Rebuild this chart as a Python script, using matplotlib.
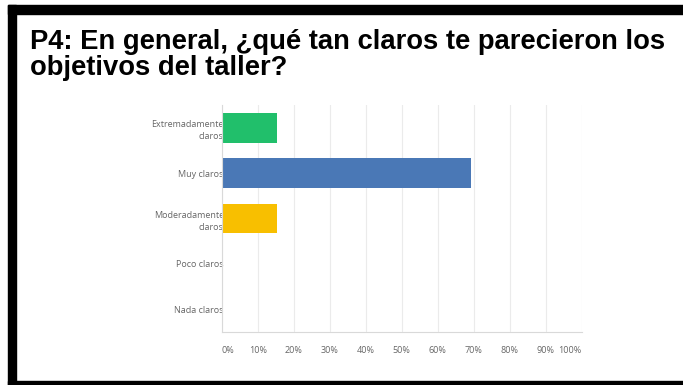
#!/usr/bin/env python3
"""
Horizontal bar chart for survey question P4 (claridad de los objetivos).
"""

import matplotlib
matplotlib.use('Agg')
import matplotlib.pyplot as plt
from matplotlib.patches import Rectangle
from matplotlib.ticker import FixedLocator


categories = ['Extremadamente\nclaros', 'Muy claros', 'Moderadamente\nclaros',
              'Poco claros', 'Nada claros']
percent = [15.38, 69.23, 15.38, 0.0, 0.0]
bar_colors = ['#21bf6b', '#4a78b6', '#f8bf00', '#999999', '#999999']
x_ticks = [0, 10, 20, 30, 40, 50, 60, 70, 80, 90, 100]
x_labels = ['%d%%' % t for t in x_ticks]
title = 'P4: En general, ¿qué tan claros te parecieron los\nobjetivos del taller?'

W, H = 683, 385
fig = plt.figure(figsize=(W / 100, H / 100), dpi=100)

# black frame on top, left and bottom
def px_rect(x0, y0, x1, y1):
    fig.patches.append(Rectangle((x0 / W, 1 - y1 / H), (x1 - x0) / W, (y1 - y0) / H,
                                 transform=fig.transFigure, color='black', zorder=0))

px_rect(8, 5, W, 14)
px_rect(8, 5, 16, H)
px_rect(8, 381, W, H)

fig.text(30 / W, 1 - 29 / H, title, ha='left', va='top',
         fontsize=19.7, fontweight='bold', family='Liberation Sans',
         linespacing=1.0, color='black')

# plot area
ax = fig.add_axes([221.7 / W, 1 - 332 / H, 360 / W, (332 - 105) / H])
y = list(range(len(categories)))
ax.barh(y, percent, height=0.66, color=bar_colors, zorder=2)
ax.set_ylim(len(categories) - 0.5, -0.5)
ax.set_xlim(0, 100)

ax.xaxis.set_major_locator(FixedLocator(x_ticks))
ax.set_xticklabels(x_labels)
ax.grid(axis='x', color='#ebebeb', linewidth=0.8, zorder=0)
ax.set_axisbelow(True)
ax.set_yticks(y)
ax.set_yticklabels(categories)

for s in ['top', 'right']:
    ax.spines[s].set_visible(False)
for s in ['left', 'bottom']:
    ax.spines[s].set_color('#d9d9d9')
    ax.spines[s].set_linewidth(0.8)

ax.tick_params(axis='both', length=0, labelsize=6.5, labelcolor='#666666')
ax.tick_params(axis='y', pad=-1.5)
ax.tick_params(axis='x', pad=10)
for lbl in ax.get_yticklabels():
    lbl.set_family('Open Sans')
    lbl.set_zorder(3)
    lbl.set_multialignment('right')
    lbl.set_linespacing(1.45)
xl = ax.get_xticklabels()
for lbl in xl:
    lbl.set_family('Open Sans')
xl[0].set_ha('left')
xl[-1].set_ha('right')

fig.savefig('out.png', dpi=100)
